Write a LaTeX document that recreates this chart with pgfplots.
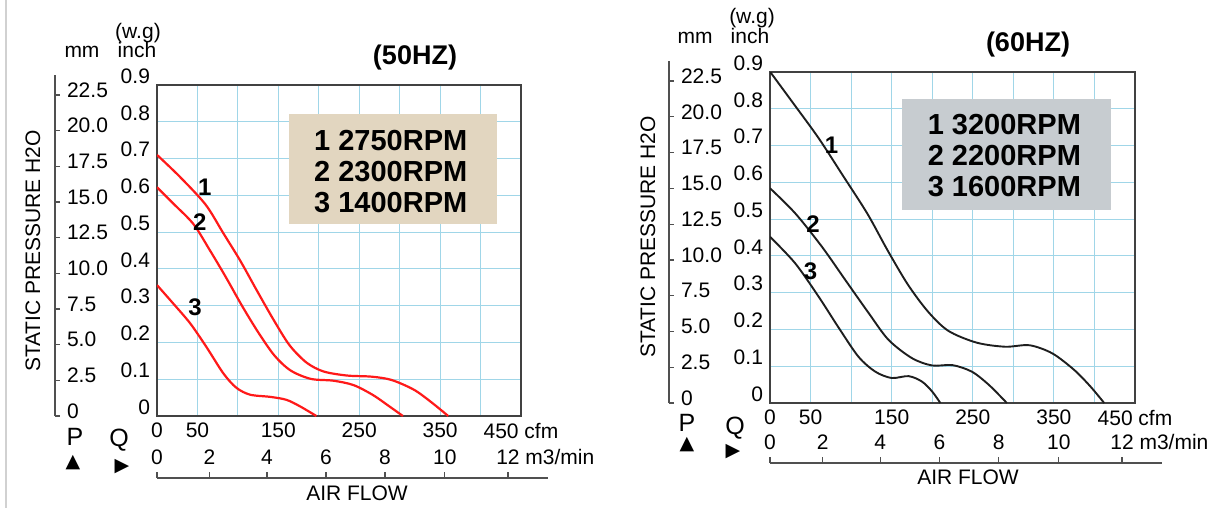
\documentclass[border=0pt]{standalone}
\usepackage{pgfplots}
\pgfplotsset{compat=1.18}
\usepackage{fontspec}
\setmainfont{Liberation Sans}
\newfontfamily\symfont{DejaVu Sans}
\definecolor{gridblue}{RGB}{160,214,232}
\definecolor{boxgray}{RGB}{65,65,65}
\definecolor{scalegray}{RGB}{80,80,80}
\definecolor{beige}{RGB}{226,214,192}
\definecolor{lgray}{RGB}{199,204,208}
\definecolor{curvered}{RGB}{255,25,25}
\definecolor{curveblack}{RGB}{30,30,30}
\newcommand{\lab}{\fontsize{10.5}{12}\selectfont}
\newcommand{\legfont}{\bfseries\fontsize{14.5}{15.5}\selectfont}
\newcommand{\numfont}{\bfseries\fontsize{12}{14}\selectfont}
\pgfplotsset{
 mainax/.style={scale only axis, width=182pt, height=165.5pt,
  xmin=0, xmax=450, ymin=0, ymax=0.9,
  xtick={0,50,100,150,200,250,300,350,400,450},
  ytick={0,0.1,0.2,0.3,0.4,0.5,0.6,0.7,0.8,0.9},
  xticklabels={0,50,,150,,250,,350,,450 cfm},
  yticklabels={0,0.1,0.2,0.3,0.4,0.5,0.6,0.7,0.8,0.9},
  grid=major, grid style={gridblue, line width=0.6pt},
  major tick length=0pt,
  axis line style={boxgray, line width=1.2pt},
  ticklabel style={font=\lab},
  yticklabel style={yshift=4.5pt},
  /pgf/number format/assume math mode=true},
 mmax/.style={scale only axis, width=10pt,
  xmin=0, xmax=1, ymin=0, ymax=23.9,
  axis x line=none, axis y line=left,
  axis line style={-, scalegray, line width=0.7pt},
  ytick={0,2.5,5,7.5,10,12.5,15,17.5,20,22.5},
  yticklabels={0,2.5,5.0,7.5,10.0,12.5,15.0,17.5,20.0,22.5},
  ytick align=inside, major tick length=2.5pt,
  tick style={scalegray, line width=0.6pt},
  yticklabel style={font=\lab, anchor=west, xshift=2.5pt, yshift=2.5pt},
  /pgf/number format/assume math mode=true},
 m3ax/.style={scale only axis, height=2pt,
  xmin=0, xmax=483, ymin=0, ymax=1,
  axis y line=none, axis x line=top,
  axis line style={-, scalegray, line width=0.8pt},
  xtick={0,65,136,209,282,356,434},
  xticklabels={0,2,4,6,8,10,{12\rlap{ m3/min}}},
  xtick align=outside, major tick length=3pt,
  tick style={scalegray, line width=0.6pt},
  xticklabel style={font=\lab},
  /pgf/number format/assume math mode=true}
}
\begin{document}
\begin{tikzpicture}
\path[use as bounding box] (0,0) rectangle (611pt,-254pt);
\draw[black!18, line width=0.6pt] (3pt,0) -- (3pt,-254pt);

% ---------------- 50 Hz panel ----------------
\begin{axis}[mainax, at={(78.5pt,-208pt)}, anchor=south west]
\fill[beige] (axis cs:163,0.523) rectangle (axis cs:420,0.821);
\node[font=\legfont, align=left] at (axis cs:289,0.666) {1 2750RPM\\2 2300RPM\\3 1400RPM};
\addplot[curvered, line width=1.1pt, smooth] coordinates {
(0,0.710) (28,0.651) (60,0.575) (82,0.497) (103,0.422) (123,0.343) (144,0.262) (164,0.192) (185,0.145) (206,0.121) (235,0.110) (265,0.107) (290,0.098) (318,0.071) (340,0.036) (360,0)};
\addplot[curvered, line width=1.1pt, smooth] coordinates {
(0,0.622) (20,0.578) (45,0.522) (65,0.452) (85,0.378) (105,0.300) (125,0.228) (145,0.165) (165,0.124) (190,0.101) (218,0.096) (243,0.084) (267,0.057) (288,0.025) (304,0)};
\addplot[curvered, line width=1.1pt, smooth] coordinates {
(0,0.356) (20,0.306) (41,0.252) (61,0.188) (82,0.116) (98,0.077) (115,0.058) (140,0.052) (160,0.044) (177,0.026) (197,0)};
\node[font=\numfont] at (axis cs:59,0.623) {1};
\node[font=\numfont] at (axis cs:53,0.528) {2};
\node[font=\numfont] at (axis cs:47,0.297) {3};
\end{axis}
\begin{axis}[mmax, at={(27.5pt,-208pt)}, anchor=south west, height=170.5pt]
\addplot[draw=none] coordinates {(0,0)};
\end{axis}
\begin{axis}[m3ax, at={(78.5pt,-239pt)}, anchor=north west, width=195.3pt]
\addplot[draw=none] coordinates {(0,0)};
\end{axis}
\node[font=\lab] at (41pt,-26pt) {mm};
\node[font=\lab] at (69pt,-16.5pt) {(w.g)};
\node[font=\lab] at (68.5pt,-25pt) {inch};
\node[font=\lab, rotate=90] at (16.5pt,-125.5pt) {STATIC PRESSURE H2O};
\node[font=\fontsize{12.5}{14}\selectfont] at (37.5pt,-218.5pt) {P};
\node[font=\symfont\fontsize{9.5}{11}\selectfont] at (36.5pt,-231.5pt) {▲};
\node[font=\fontsize{12.5}{14}\selectfont] at (59.5pt,-220pt) {Q};
\node[font=\symfont\fontsize{9.5}{11}\selectfont] at (61pt,-233.5pt) {▶};
\node[font=\lab] at (178.5pt,-246.5pt) {AIR FLOW};
\node[font=\bfseries\fontsize{13.5}{15}\selectfont] at (207.5pt,-29pt) {(50HZ)};

% ---------------- 60 Hz panel ----------------
\begin{axis}[mainax, at={(385pt,-201.5pt)}, anchor=south west, width=182.5pt]
\fill[lgray] (axis cs:163,0.525) rectangle (axis cs:420,0.826);
\node[font=\legfont, align=left] at (axis cs:289,0.672) {1 3200RPM\\2 2200RPM\\3 1600RPM};
\addplot[curveblack, line width=0.95pt, smooth] coordinates {
(0,0.901) (30,0.811) (60,0.720) (90,0.618) (120,0.515) (145,0.415) (170,0.322) (195,0.248) (220,0.196) (255,0.164) (290,0.153) (320,0.157) (348,0.135) (375,0.090) (395,0.045) (412,0)};
\addplot[curveblack, line width=0.95pt, smooth] coordinates {
(0,0.584) (31,0.516) (64,0.425) (93,0.334) (121.5,0.245) (146,0.172) (175,0.122) (200,0.102) (225,0.103) (249,0.085) (270,0.049) (292,0)};
\addplot[curveblack, line width=0.95pt, smooth] coordinates {
(0,0.452) (31,0.380) (60,0.289) (84,0.207) (109,0.126) (130,0.085) (150,0.068) (171,0.073) (187.5,0.058) (200,0.031) (210,0)};
\node[font=\numfont] at (axis cs:76,0.700) {1};
\node[font=\numfont] at (axis cs:53,0.487) {2};
\node[font=\numfont] at (axis cs:50,0.357) {3};
\end{axis}
\begin{axis}[mmax, at={(334.5pt,-201.5pt)}, anchor=south west, height=171pt]
\addplot[draw=none] coordinates {(0,0)};
\end{axis}
\begin{axis}[m3ax, at={(385pt,-231.5pt)}, anchor=north west, width=195.9pt]
\addplot[draw=none] coordinates {(0,0)};
\end{axis}
\node[font=\lab] at (347.5pt,-19pt) {mm};
\node[font=\lab] at (376pt,-9pt) {(w.g)};
\node[font=\lab] at (375pt,-18pt) {inch};
\node[font=\lab, rotate=90] at (324pt,-118.5pt) {STATIC PRESSURE H2O};
\node[font=\fontsize{12.5}{14}\selectfont] at (343.5pt,-211.5pt) {P};
\node[font=\symfont\fontsize{9.5}{11}\selectfont] at (343.5pt,-222.5pt) {▲};
\node[font=\fontsize{12.5}{14}\selectfont] at (367.5pt,-214pt) {Q};
\node[font=\symfont\fontsize{9.5}{11}\selectfont] at (366.5pt,-226pt) {▶};
\node[font=\lab] at (484pt,-238.5pt) {AIR FLOW};
\node[font=\bfseries\fontsize{13.5}{15}\selectfont] at (514pt,-22.5pt) {(60HZ)};
\end{tikzpicture}
\end{document}
